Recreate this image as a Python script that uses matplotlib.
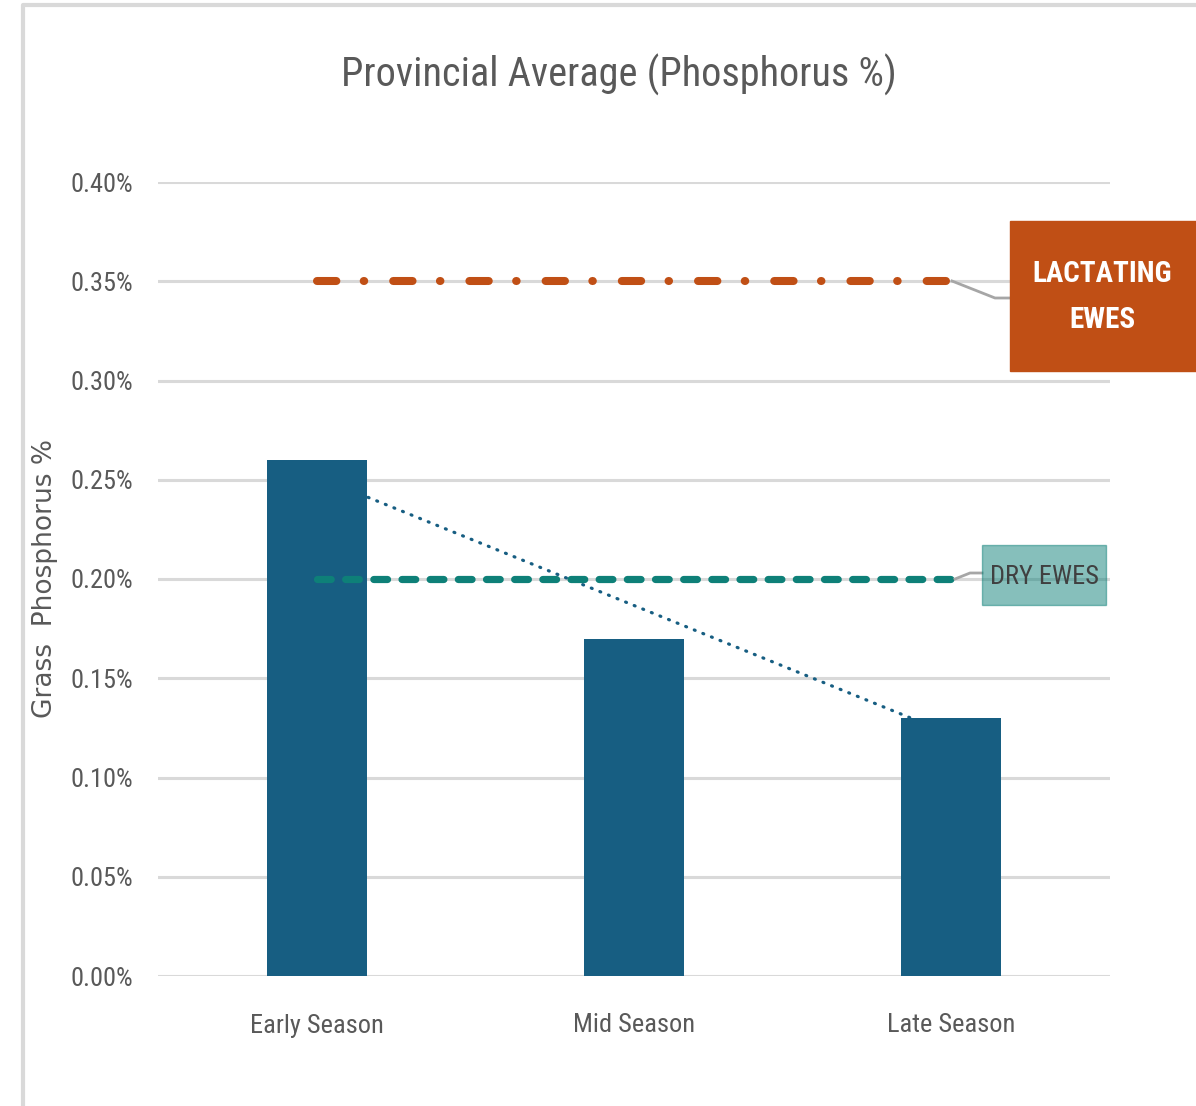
import matplotlib
matplotlib.use("Agg")
import matplotlib.pyplot as plt
from matplotlib import font_manager as fm
from matplotlib.lines import Line2D
from matplotlib.patches import Rectangle

# Grass phosphorus by season, with requirement levels for ewes
seasons = ["Early Season", "Mid Season", "Late Season"]
phosphorus = [0.26, 0.17, 0.13]
lactating_req = 0.35
dry_req = 0.20
y_ticks = [0.00, 0.05, 0.10, 0.15, 0.20, 0.25, 0.30, 0.35, 0.40]

# pick a condensed sans if one is around
installed = {f.name for f in fm.fontManager.ttflist}
narrow = "Liberation Sans"
for cand in ["Liberation Sans Narrow", "Roboto Condensed", "Archivo Narrow", "PT Sans Narrow",
             "Fira Sans Condensed", "IBM Plex Sans Condensed", "Barlow Semi Condensed"]:
    if cand in installed:
        narrow = cand
        break

W, H = 1196, 1106
fig = plt.figure(figsize=(W / 100, H / 100), dpi=100)
ax = fig.add_axes([158 / W, 1 - 976 / H, (1110 - 158) / W, (976 - 182) / H])

grey = "#595959"
bar_col = "#175E82"
orange = "#C04F15"
teal = "#0E8078"

x = list(range(len(seasons)))
ax.bar(x, phosphorus, width=0.315, color=bar_col, zorder=3)

# linear trend through the bar values
n = len(x)
mx = sum(x) / n
my = sum(phosphorus) / n
slope = sum((xi - mx) * (yi - my) for xi, yi in zip(x, phosphorus)) / sum((xi - mx) ** 2 for xi in x)
icpt = my - slope * mx
ax.plot([x[0], x[-1]], [icpt + slope * x[0], icpt + slope * x[-1]],
        color=bar_col, lw=2.3, linestyle=(0, (0.3, 2.6)), dash_capstyle="round", zorder=2)

ax.plot([x[0], x[-1]], [lactating_req] * 2, color=orange, lw=5.8,
        linestyle=(0, (2.4, 3.4, 0.06, 3.6)), dash_capstyle="round", zorder=4)
ax.plot([x[0], x[-1]], [dry_req] * 2, color=teal, lw=5.2,
        linestyle=(0, (1.9, 2.0)), dash_capstyle="round", zorder=4)

ax.set_xlim(-0.5, 2.5)
ax.set_ylim(0, 0.40)
ax.set_yticks(y_ticks)
ax.set_yticklabels([f"{v:.2f}%" for v in y_ticks])
ax.set_xticks(x)
ax.set_xticklabels(seasons)
ax.tick_params(axis="both", length=0, labelsize=19, labelcolor=grey)
ax.tick_params(axis="y", pad=18)
ax.tick_params(axis="x", pad=27)
for lab in ax.get_xticklabels() + ax.get_yticklabels():
    lab.set_fontfamily(narrow)
for s in ax.spines.values():
    s.set_visible(False)
ax.grid(axis="y", color="#D9D9D9", lw=2.2, zorder=0)
ax.set_axisbelow(True)

fig.text(619 / W, 1 - 75 / H, "Provincial Average (Phosphorus %)", ha="center", va="center",
         fontsize=29, color=grey, family=narrow)
fig.text(45 / W, 1 - 578 / H, "Grass  Phosphorus %", ha="center", va="center",
         rotation=90, fontsize=19, color=grey, family="DejaVu Sans")

def px(xp, yp):
    return xp / W, 1 - yp / H

# leader lines
fig.add_artist(Line2D([952 / W, 995 / W, 1010 / W], [1 - 281 / H, 1 - 298 / H, 1 - 298 / H],
                      color="#A6A6A6", lw=2))
fig.add_artist(Line2D([955 / W, 970 / W, 982 / W], [1 - 579 / H, 1 - 573 / H, 1 - 573 / H],
                      color="#A6A6A6", lw=2))

# label boxes
fig.add_artist(Rectangle(px(1010, 371), (1196 - 1010) / W, 150 / H, color=orange, zorder=5))
fig.text(1102 / W, 1 - 297 / H, "LACTATING\nEWES", ha="center", va="center", fontsize=21,
         color="white", fontweight="bold", family=narrow, linespacing=1.85, zorder=6)
fig.add_artist(Rectangle(px(982, 605), (1106 - 982) / W, 60 / H, color=teal, alpha=0.5, zorder=5))
fig.text(1044 / W, 1 - 577 / H, "DRY EWES", ha="center", va="center", fontsize=19,
         color="#404040", family=narrow, zorder=6)

# chart frame edges
fig.add_artist(Line2D([23 / W, 23 / W, 1], [0, 1 - 5 / H, 1 - 5 / H], color="#D9D9D9", lw=3))

fig.savefig("out.png", dpi=100)
